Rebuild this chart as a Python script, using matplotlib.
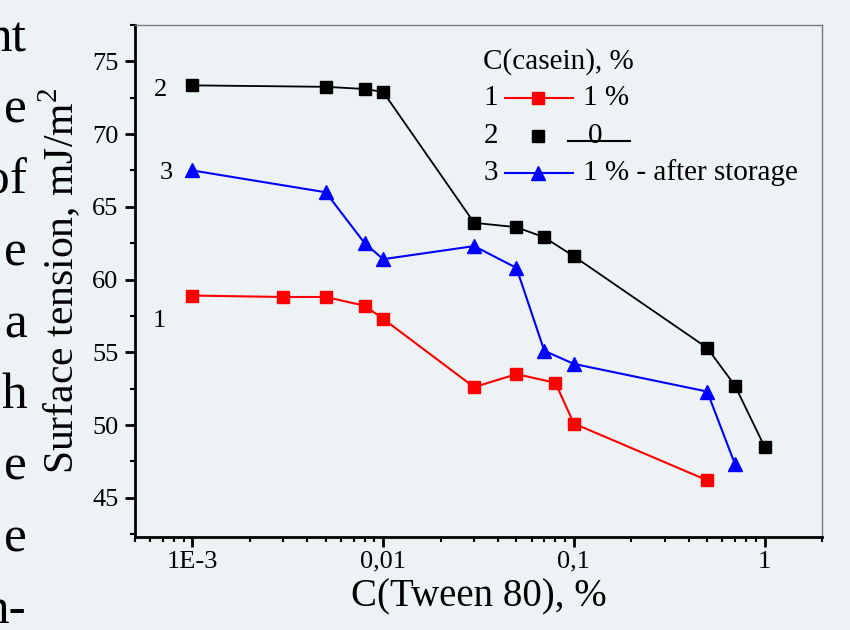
import matplotlib
matplotlib.use("Agg")
import matplotlib.pyplot as plt
from matplotlib.ticker import FixedLocator, FixedFormatter, LogLocator, NullFormatter, MultipleLocator

# data
tween_red = [0.001, 0.003, 0.005, 0.008, 0.01, 0.03, 0.05, 0.08, 0.1, 0.5]
st_red = [58.9, 58.8, 58.8, 58.2, 57.3, 52.6, 53.5, 52.9, 50.1, 46.2]

tween_black = [0.001, 0.005, 0.008, 0.01, 0.03, 0.05, 0.07, 0.1, 0.5, 0.7, 1.0]
st_black = [73.35, 73.25, 73.1, 72.9, 63.9, 63.6, 62.9, 61.6, 55.3, 52.7, 48.5]

tween_blue = [0.001, 0.005, 0.008, 0.01, 0.03, 0.05, 0.07, 0.1, 0.5, 0.7]
st_blue = [67.5, 66.0, 62.5, 61.4, 62.3, 60.8, 55.1, 54.2, 52.3, 47.3]

x_ticks = [0.001, 0.01, 0.1, 1]
x_ticklabels = ["1E-3", "0,01", "0,1", "1"]
y_ticks = [45, 50, 55, 60, 65, 70, 75]

legend_title = "C(casein), %"
legend_rows = ["1 %", "0", "1 % - after storage"]

# cut-off words of the surrounding page text
page_bits = ["nt", "e", "of", "e", "a", "h", "e", "e", "n-"]

bg = "#edf2f5"
plt.rcParams["font.family"] = ["Liberation Serif", "DejaVu Serif"]
plt.rcParams["mathtext.fontset"] = "custom"
plt.rcParams["mathtext.rm"] = "Liberation Serif"

fig = plt.figure(figsize=(8.5, 6.3), dpi=100)
fig.patch.set_facecolor(bg)
ax = fig.add_axes([135 / 850, 1 - 537 / 630, 687 / 850, 512 / 630])
ax.set_facecolor(bg)

ax.plot(tween_red, st_red, color="#ff0000", lw=1.5, marker="s", ms=8.5, mec="#ff0000")
ax.plot(tween_black, st_black, color="black", lw=1.3, marker="s", ms=8.5)
ax.plot(tween_blue, st_blue, color="#0000ff", lw=1.5, marker="^", ms=10)

# curve numbers next to first points
ax.annotate("2", (tween_black[0], st_black[0]), xytext=(-23, -3), textcoords="offset points",
            ha="center", va="center", fontsize=19)
ax.annotate("3", (tween_blue[0], st_blue[0]), xytext=(-19, -2), textcoords="offset points",
            ha="center", va="center", fontsize=19)
ax.annotate("1", (tween_red[0], st_red[0]), xytext=(-24, -18), textcoords="offset points",
            ha="center", va="center", fontsize=19)

ax.set_xscale("log")
ax.set_xlim(5e-4, 2)
ax.set_ylim(42.3, 77.5)
ax.xaxis.set_major_locator(FixedLocator(x_ticks))
ax.xaxis.set_major_formatter(FixedFormatter(x_ticklabels))
ax.xaxis.set_minor_locator(LogLocator(base=10, subs=range(2, 10)))
ax.xaxis.set_minor_formatter(NullFormatter())
ax.yaxis.set_major_locator(FixedLocator(y_ticks))
ax.yaxis.set_minor_locator(MultipleLocator(2.5))

ax.tick_params(which="major", direction="out", length=7, width=2, labelsize=19, pad=3)
ax.tick_params(which="minor", direction="out", length=3.5, width=1.5)
ax.tick_params(axis="y", which="major", pad=5)
ax.tick_params(top=False, right=False, which="both")

for s in ["left", "bottom"]:
    ax.spines[s].set_linewidth(2)
for s in ["top", "right"]:
    ax.spines[s].set_linewidth(1)
    ax.spines[s].set_color("#7a7a7a")

ax.set_xlabel("C(Tween 80), %", fontsize=28)
ax.xaxis.set_label_coords(0.5, -0.08)
ax.set_ylabel("Surface tension, mJ/m$^2$", fontsize=30)
ax.yaxis.set_label_coords(-0.075, 0.5)

# hand-made legend, as in the original
tr = ax.transAxes
ax.text(0.507, 0.928, legend_title, transform=tr, fontsize=21, va="center")
rows_y = [0.857, 0.783, 0.711]
ax.text(0.507, rows_y[0], "1", transform=tr, fontsize=21, va="center")
ax.plot([0.539, 0.638], [rows_y[0]] * 2, color="#ff0000", lw=1.5, transform=tr, clip_on=False)
ax.plot([0.587], [rows_y[0]], color="#ff0000", marker="s", ms=8.5, transform=tr, clip_on=False)
ax.text(0.652, rows_y[0], legend_rows[0], transform=tr, fontsize=21, va="center")

ax.text(0.507, rows_y[1], "2", transform=tr, fontsize=21, va="center")
ax.plot([0.587], [rows_y[1]], color="black", marker="s", ms=8.5, transform=tr, clip_on=False)
ax.text(0.670, rows_y[1], legend_rows[1], transform=tr, fontsize=21, va="center", ha="center")
ax.plot([0.630, 0.721], [0.773, 0.773], color="black", lw=1.5, transform=tr, clip_on=False)

ax.text(0.507, rows_y[2], "3", transform=tr, fontsize=21, va="center")
ax.plot([0.539, 0.638], [rows_y[2]] * 2, color="#0000ff", lw=1.5, transform=tr, clip_on=False)
ax.plot([0.587], [rows_y[2]], color="#0000ff", marker="^", ms=10, transform=tr, clip_on=False)
ax.text(0.652, rows_y[2], legend_rows[2], transform=tr, fontsize=21, va="center")

# page text cut off at the left edge
for i, w in enumerate(page_bits):
    fig.text(27 / 850, 1 - (51 + 71.5 * i) / 630, w, ha="right", va="baseline", fontsize=37)

fig.savefig("out.png", dpi=100, facecolor=bg)
